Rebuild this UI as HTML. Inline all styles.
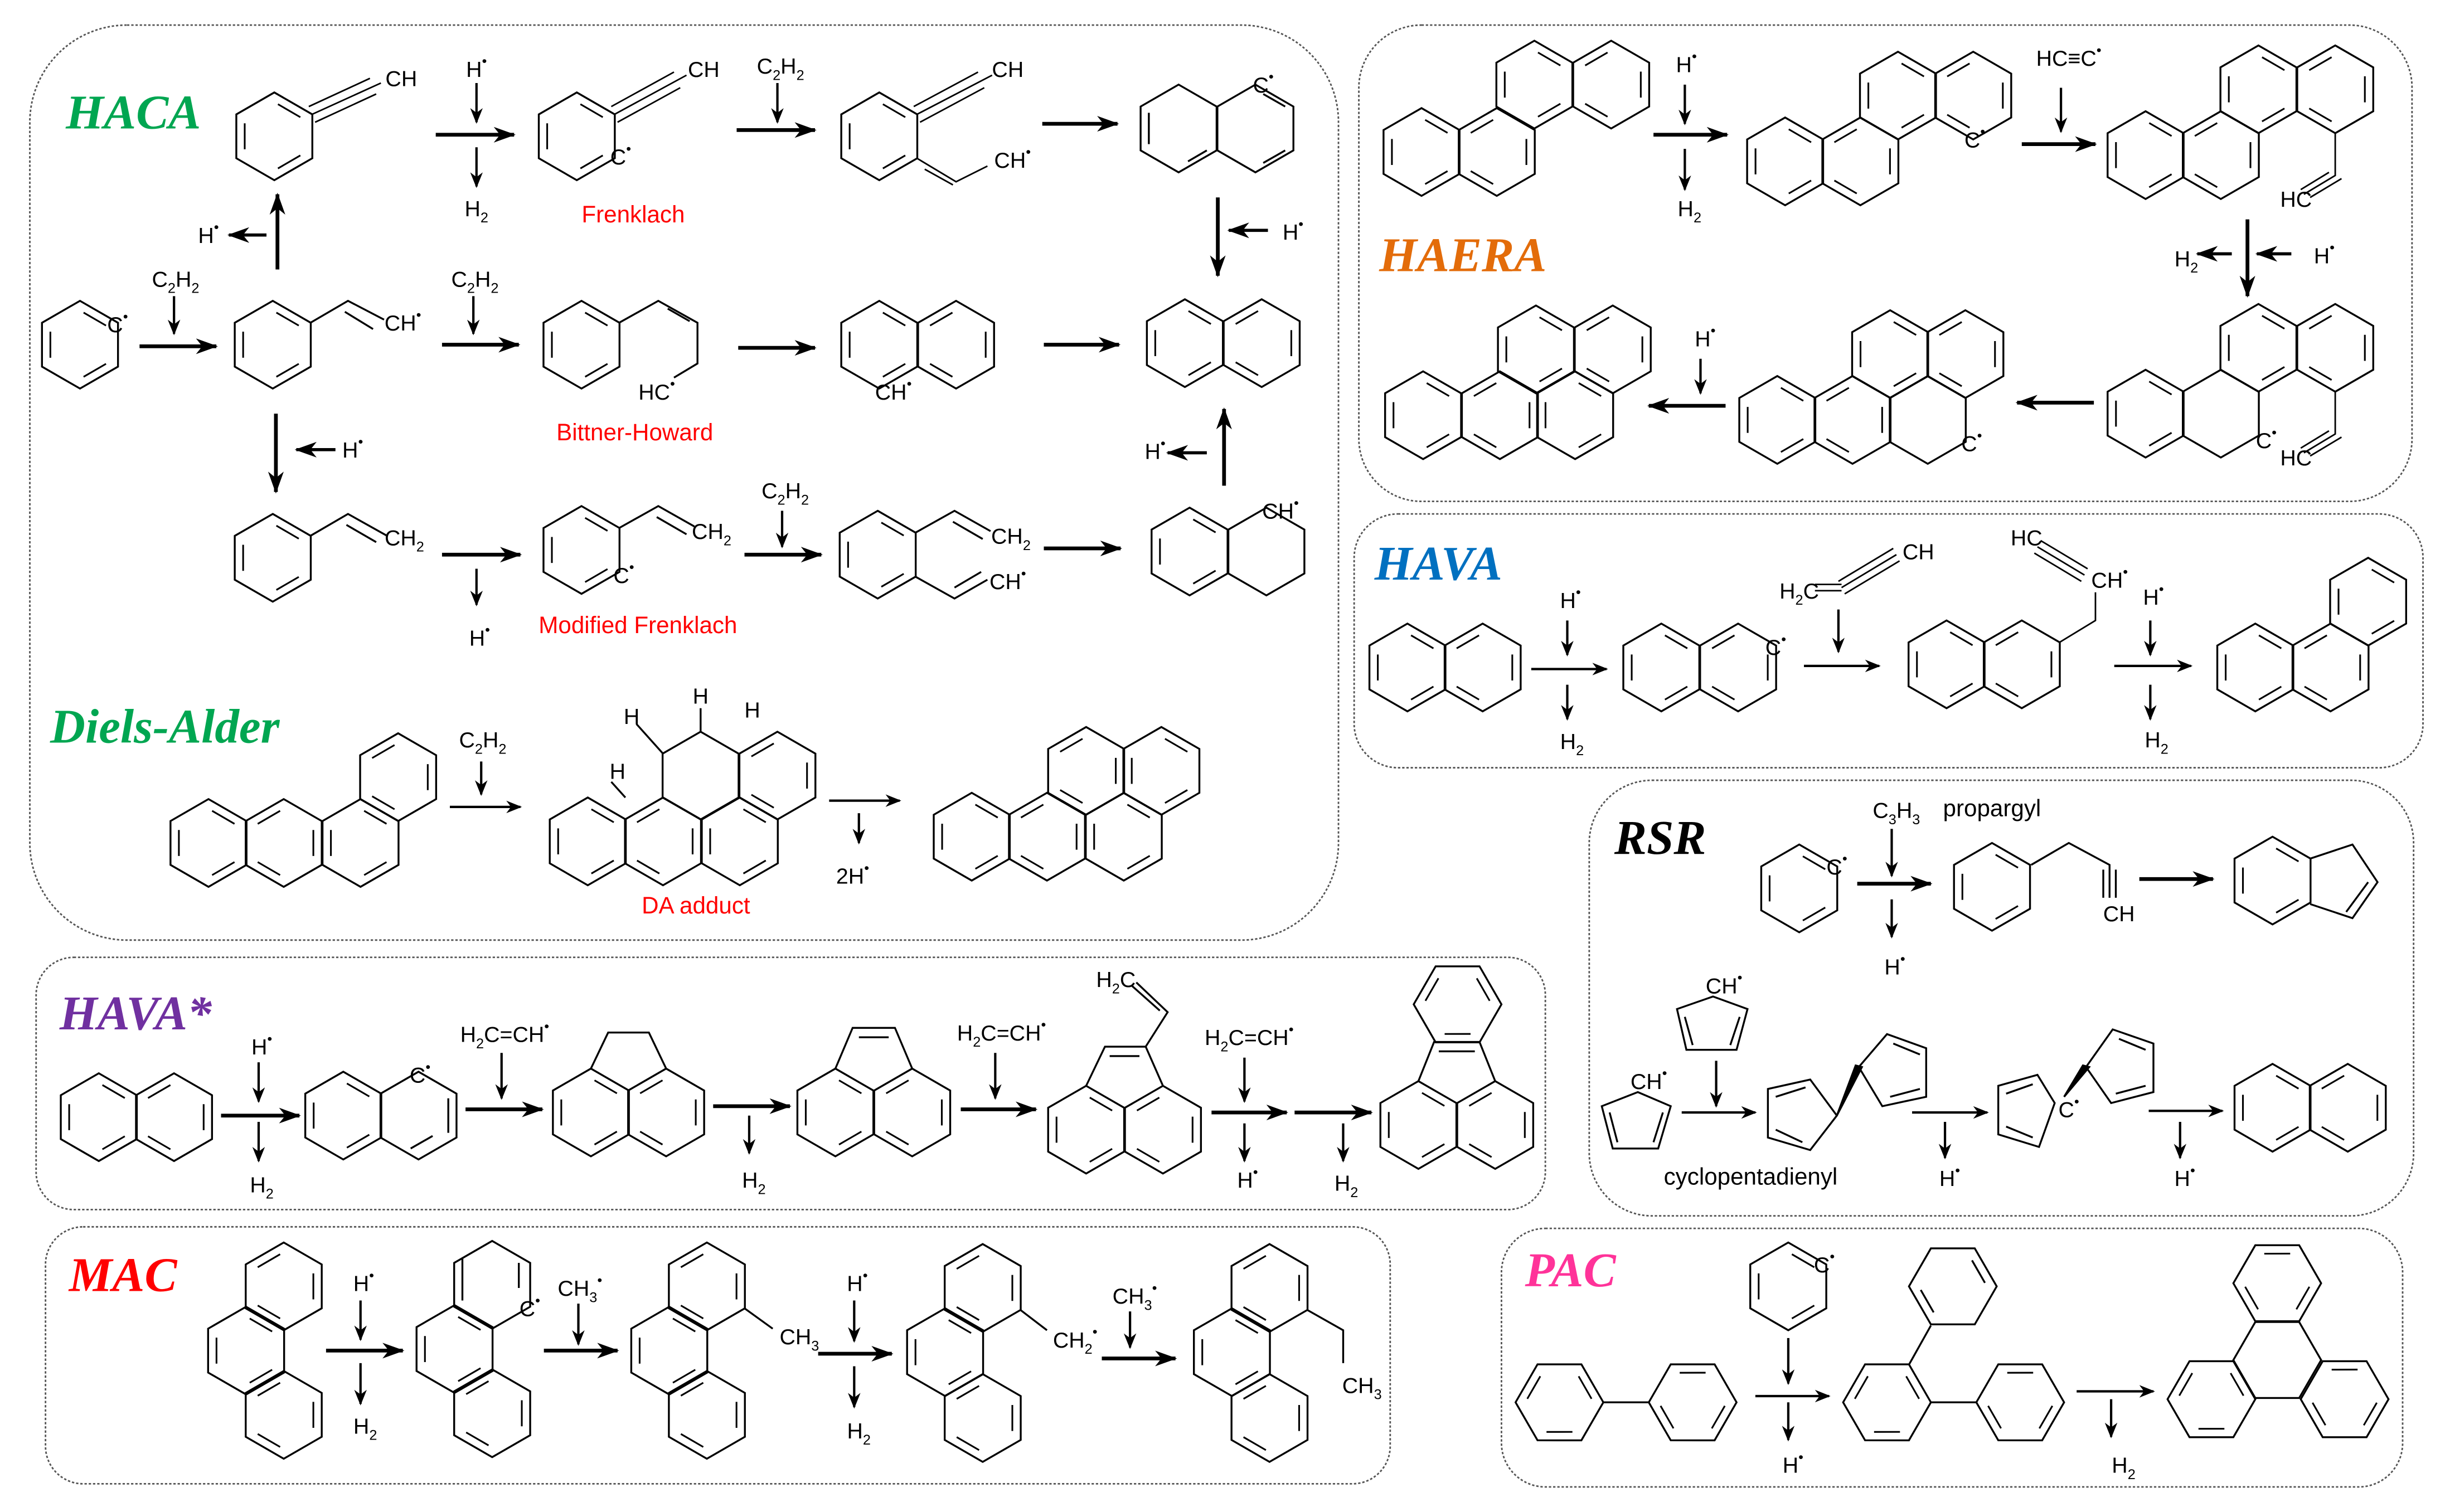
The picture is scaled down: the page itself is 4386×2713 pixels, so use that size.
<!DOCTYPE html>
<html><head><meta charset="utf-8"><style>
html,body{margin:0;padding:0;background:#fff}
svg{display:block}
text{font-family:"Liberation Sans",sans-serif;font-size:14px;fill:#000}
.lb{font-family:"Liberation Serif",serif;font-weight:bold;font-style:italic;font-size:31px}
.red{fill:#f00;font-size:15px}
.s{font-size:9px}
</style></head><body>
<svg width="4386" height="2713" viewBox="0 0 1560 965" xmlns="http://www.w3.org/2000/svg">
<defs>
<marker id="a" markerUnits="userSpaceOnUse" markerWidth="14" markerHeight="10" refX="13" refY="5" orient="auto"><path d="M0,0 L14,5 L0,10 L4,5 z" fill="#000"/></marker>
<marker id="b" markerUnits="userSpaceOnUse" markerWidth="10" markerHeight="8" refX="9" refY="4" orient="auto"><path d="M0,0 L10,4 L0,8 L3,4 z" fill="#000"/></marker>
<g id="H"><polygon points="0,-28 24.25,-14 24.25,14 0,28 -24.25,14 -24.25,-14" fill="none" stroke="#000" stroke-width="1.2"/></g>
<g id="P"><use href="#H"/><path d="M2.3,-20.5L16.6,-12.2M16.6,12.2L2.3,20.5M-18.9,8.3L-18.9,-8.3" stroke="#000" stroke-width="1.1" fill="none"/></g>
<g id="Q"><use href="#H"/><path d="M18.9,-8.3L18.9,8.3M-2.3,20.5L-16.6,12.2M-16.6,-12.2L-2.3,-20.5" stroke="#000" stroke-width="1.1" fill="none"/></g>
<g id="F"><g transform="rotate(30)"><use href="#P"/></g></g>
<g id="G"><g transform="rotate(30)"><use href="#Q"/></g></g>
</defs>
<g fill="none" stroke="#555" stroke-width="1" stroke-dasharray="1.5,1.2">
<rect x="19" y="16" width="835" height="584" rx="62"/>
<rect x="867" y="16" width="672" height="304" rx="40"/>
<rect x="864" y="328" width="682" height="162" rx="28"/>
<rect x="1014" y="498" width="526" height="278" rx="40"/>
<rect x="23" y="611" width="963" height="161" rx="24"/>
<rect x="29" y="783" width="858" height="164" rx="24"/>
<rect x="958" y="784" width="575" height="165" rx="28"/>
</g>
<text class="lb" x="42" y="82" style="fill:#00a651">HACA</text>
<text class="lb" x="32" y="474" style="fill:#00a651">Diels-Alder</text>
<text class="lb" x="880" y="173" style="fill:#e36c0a">HAERA</text>
<text class="lb" x="877" y="370" style="fill:#0070c0">HAVA</text>
<text class="lb" x="1030" y="545" style="fill:#000">RSR</text>
<text class="lb" x="38" y="657" style="fill:#7030a0">HAVA*</text>
<text class="lb" x="44" y="824" style="fill:#f00">MAC</text>
<text class="lb" x="973" y="821" style="fill:#ff3399">PAC</text>

<g stroke="#000" stroke-width="1.2" fill="none">
<!-- HACA row1 -->
<use href="#P" x="175" y="87"/>
<path d="M199,73 L243,53 M201,78 L240,60 M197,68 L236,50" stroke-width="1"/>
<use href="#P" x="368" y="87"/>
<path d="M392,73 L438,48 M394,78 L434,56 M390,68 L430,46" stroke-width="1"/>
<use href="#P" x="561" y="87"/>
<path d="M585,73 L633,48 M587,78 L628,56 M583,68 L624,46 M585,101 L610,116 L630,106 M590,108 L608,118" stroke-width="1"/>
<use href="#H" x="752" y="82"/><use href="#H" x="801" y="82"/>
<path d="M733,72L733,92M758,103L770,96M806,60L820,68M806,104L820,96"/>
<!-- row2 -->
<use href="#P" x="51" y="220"/>
<use href="#P" x="174" y="220"/>
<path d="M198,206 L222,192 L245,204 M220,199 L238,210"/>
<use href="#P" x="371" y="220"/>
<path d="M395,206 L420,192 L445,206 L445,232 L430,241 M426,197 L440,205"/>
<use href="#P" x="561" y="220"/><use href="#Q" x="610" y="220"/>
<use href="#P" x="756" y="219"/><use href="#Q" x="805" y="219"/>
<!-- row3 -->
<use href="#P" x="174" y="356"/>
<path d="M198,342 L222,328 L247,342 M221,335 L240,346"/>
<use href="#P" x="371" y="351"/>
<path d="M395,337 L420,323 L443,336 M419,330 L438,341"/>
<use href="#P" x="560" y="354"/>
<path d="M584,340 L609,326 L632,339 M608,333 L627,344 M584,368 L609,382 L630,370 M609,375 L626,365"/>
<use href="#P" x="759" y="352"/><use href="#H" x="808" y="352"/>
<!-- Diels-Alder -->
<use href="#P" x="133" y="538"/><use href="#Q" x="181" y="538"/><use href="#P" x="230" y="538"/><use href="#Q" x="254" y="496"/>
<use href="#P" x="375" y="537"/><use href="#Q" x="423" y="537"/><use href="#P" x="472" y="537"/><use href="#Q" x="496" y="495"/><use href="#H" x="447" y="495"/>
<path d="M423,481 L406,462 M447,467 L447,452 M399,509 L390,499"/>
<use href="#P" x="620" y="534"/><use href="#Q" x="668" y="534"/><use href="#P" x="717" y="534"/><use href="#Q" x="693" y="492"/><use href="#P" x="741" y="492"/>
<!-- HAERA -->
<use href="#P" x="907" y="97"/><use href="#Q" x="955" y="97"/><use href="#P" x="979" y="54"/><use href="#Q" x="1028" y="54"/>
<use href="#P" x="1139" y="103"/><use href="#Q" x="1187" y="103"/><use href="#P" x="1211" y="61"/><use href="#Q" x="1259" y="61"/>
<use href="#P" x="1369" y="99"/><use href="#Q" x="1417" y="99"/><use href="#P" x="1441" y="57"/><use href="#Q" x="1490" y="57"/>
<path d="M1490,85 L1490,112 L1470,124 M1486,110 L1468,121 M1494,114 L1474,126" stroke-width="1"/>
<use href="#P" x="1369" y="264"/><use href="#H" x="1417" y="264"/><use href="#P" x="1441" y="222"/><use href="#Q" x="1490" y="222"/>
<path d="M1490,250 L1490,277 L1470,289 M1486,275 L1468,286 M1494,279 L1474,291" stroke-width="1"/>
<use href="#P" x="1134" y="268"/><use href="#Q" x="1182" y="268"/><use href="#P" x="1206" y="226"/><use href="#Q" x="1254" y="226"/><use href="#H" x="1230" y="268"/>
<use href="#P" x="908" y="265"/><use href="#Q" x="957" y="265"/><use href="#P" x="980" y="223"/><use href="#Q" x="1029" y="223"/><use href="#P" x="1005" y="265"/>
<!-- HAVA -->
<use href="#P" x="898" y="426"/><use href="#Q" x="946" y="426"/>
<use href="#P" x="1060" y="426"/><use href="#Q" x="1109" y="426"/>
<path d="M1158,373 L1175,373 M1158,377 L1175,377 M1175,375 L1210,354 M1177,379 L1212,358 M1173,371 L1208,350" stroke-width="1"/>
<use href="#P" x="1242" y="424"/><use href="#Q" x="1290" y="424"/>
<path d="M1314,410 L1337,396 L1337,378 M1330,367 L1300,349 M1332,363 L1302,345 M1328,371 L1298,353" stroke-width="1"/>
<use href="#P" x="1439" y="426"/><use href="#Q" x="1487" y="426"/><use href="#P" x="1511" y="384"/>
<!-- RSR -->
<use href="#P" x="1148" y="567"/>
<use href="#P" x="1271" y="566"/>
<path d="M1296,552 L1320,538 L1346,552 L1346,573 M1342,555 L1342,573 M1350,555 L1350,573"/>
<use href="#P" x="1450" y="562"/>
<path d="M1474,548 L1501,539 L1517,563 L1501,586 L1474,577 M1511,563 L1497,582"/>
<polygon points="1093,636 1115,644 1108,670 1076,670 1070,644"/>
<path d="M1110,649 L1104,667 M1075,649 L1080,667"/>
<polygon points="1045,697 1066,706 1058,733 1029,733 1022,706"/>
<path d="M1061,710 L1055,729 M1027,710 L1032,729"/>
<polygon points="1128,695 1155,689 1172,712 1155,734 1128,726"/>
<path d="M1133,700 L1152,694 M1133,721 L1150,729"/>
<polygon points="1186,681 1204,660 1229,669 1229,700 1201,706" />
<path d="M1208,666 L1225,673 M1206,700 L1225,695"/>
<polygon points="1172,712 1188,681 1184,680" fill="#000"/>
<polygon points="1275,693 1300,686 1311,704 1301,732 1275,724"/>
<path d="M1280,698 L1297,692 M1280,719 L1297,726"/>
<polygon points="1331,681 1348,657 1374,666 1374,697 1347,704"/>
<path d="M1352,663 L1369,670 M1350,698 L1369,693"/>
<polygon points="1317,700 1333,681 1329,680" fill="#000"/>
<use href="#P" x="1450" y="707"/><use href="#Q" x="1498" y="707"/>
<!-- HAVA* -->
<use href="#P" x="63" y="713"/><use href="#Q" x="111" y="713"/>
<use href="#P" x="219" y="712"/><use href="#H" x="267" y="712"/>
<path d="M286,701L286,723M262,733L276,725"/>
<use href="#P" x="377" y="710"/><use href="#Q" x="425" y="710"/>
<path d="M377,682 L388,659 L414,659 L425,682"/>
<use href="#P" x="533" y="710"/><use href="#Q" x="582" y="710"/>
<path d="M533,682 L544,656 L571,656 L582,682 M548,662 L567,662"/>
<use href="#P" x="693" y="721"/><use href="#Q" x="742" y="721"/>
<path d="M693,693 L705,668 L731,668 L742,693 M708,674 L727,674 M731,668 L745,646 L725,627 M740,645 L722,629"/>
<use href="#P" x="905" y="718"/><use href="#Q" x="954" y="718"/>
<path d="M905,690 L915,665 L944,665 L954,690 M918,671 L941,671"/>
<use href="#F" x="930" y="641"/>
<!-- MAC -->
<use href="#Q" x="181" y="821"/><use href="#P" x="157" y="862"/><use href="#Q" x="181" y="903"/>
<use href="#H" x="314" y="820"/><use href="#P" x="290" y="861"/><use href="#Q" x="314" y="902"/>
<path d="M295,803L295,830M331,806L331,822"/>
<use href="#Q" x="451" y="821"/><use href="#P" x="427" y="862"/><use href="#Q" x="451" y="903"/>
<path d="M475,835 L493,848"/>
<use href="#Q" x="627" y="822"/><use href="#P" x="603" y="863"/><use href="#Q" x="627" y="905"/>
<path d="M651,836 L668,849"/>
<use href="#Q" x="810" y="822"/><use href="#P" x="786" y="863"/><use href="#Q" x="810" y="905"/>
<path d="M834,836 L857,849 L857,870"/>
<!-- PAC -->
<use href="#F" x="995" y="895"/><use href="#G" x="1080" y="895"/><path d="M1023,895 L1052,895"/>
<use href="#P" x="1141" y="821"/>
<use href="#F" x="1204" y="895"/><use href="#G" x="1289" y="895"/><path d="M1232,895 L1261,895 M1218,871 L1232,846"/>
<g transform="translate(1246,821) rotate(30)"><polygon points="0,-28 24.25,-14 24.25,14 0,28 -24.25,14 -24.25,-14"/><path d="M2.3,-20.5L16.6,-12.2M-2.3,20.5L-16.6,12.2" /></g>
<use href="#G" x="1453" y="819"/><use href="#F" x="1411" y="893"/><use href="#G" x="1496" y="893"/><use href="#H" x="1453" y="868" transform="rotate(30 1453 868)"/>
</g>

<!-- arrows (bold) -->
<g stroke="#000" stroke-width="2.4" marker-end="url(#a)" fill="none">
<path d="M278,86H328"/><path d="M470,83H520"/><path d="M665,79H713"/><path d="M89,221H138"/><path d="M282,220H331"/><path d="M471,222H520"/><path d="M666,220H714"/><path d="M282,354H332"/><path d="M475,354H524"/><path d="M666,350H715"/>
<path d="M177,172V124"/><path d="M176,264V314"/><path d="M777,126V176"/><path d="M781,310V261"/>
<path d="M1055,86H1102"/><path d="M1290,92H1337"/><path d="M1434,140V189"/><path d="M1336,257H1287"/><path d="M1101,259H1052"/>
<path d="M1185,564H1232"/><path d="M1365,561H1412"/>
<path d="M141,712H191"/><path d="M297,708H346"/><path d="M455,706H504"/><path d="M613,708H661"/><path d="M773,710H821"/><path d="M826,710H875"/>
<path d="M208,862H257"/><path d="M347,862H394"/><path d="M522,864H569"/><path d="M703,867H750"/>
</g>
<g stroke="#000" stroke-width="2" marker-end="url(#a)" fill="none">
<path d="M170,150H146"/><path d="M214,287H189"/><path d="M809,147H784"/><path d="M770,289H745"/><path d="M1424,162H1402"/><path d="M1462,162H1440"/>
</g>
<!-- arrows (thin) -->
<g stroke="#000" stroke-width="1.5" marker-end="url(#b)" fill="none">
<path d="M304,53V78"/><path d="M304,94V119"/><path d="M496,53V78"/><path d="M111,189V213"/><path d="M302,189V213"/><path d="M304,363V386"/><path d="M499,326V349"/>
<path d="M307,486V507"/><path d="M287,515H332"/><path d="M529,511H574"/><path d="M548,519V538"/>
<path d="M1075,54V79"/><path d="M1075,95V121"/><path d="M1315,56V84"/><path d="M1085,229V251"/>
<path d="M977,427H1025"/><path d="M1000,396V418"/><path d="M1000,437V459"/><path d="M1173,389V416"/><path d="M1151,425H1199"/><path d="M1349,425H1398"/><path d="M1372,396V418"/><path d="M1372,437V459"/>
<path d="M1207,529V559"/><path d="M1207,574V598"/><path d="M1095,677V706"/><path d="M1073,710H1120"/><path d="M1220,710H1268"/><path d="M1241,716V739"/><path d="M1371,709H1418"/><path d="M1391,716V739"/>
<path d="M165,678V703"/><path d="M165,716V741"/><path d="M320,672V701"/><path d="M478,712V736"/><path d="M635,672V701"/><path d="M794,675V703"/><path d="M794,717V741"/><path d="M857,717V741"/>
<path d="M230,830V855"/><path d="M230,870V896"/><path d="M369,832V858"/><path d="M545,830V856"/><path d="M545,872V898"/><path d="M721,837V860"/>
<path d="M1141,854V883"/><path d="M1120,891H1167"/><path d="M1141,895V919"/><path d="M1325,888H1374"/><path d="M1347,893V917"/>
</g>

<!-- texts -->
<g text-anchor="middle">
<text x="256" y="55">CH</text>
<text x="304" y="49">H<tspan class="s" dy="-7">•</tspan></text>
<text x="304" y="138">H<tspan class="s" dy="4">2</tspan></text>
<text x="449" y="49">CH</text>
<text x="396" y="105">C<tspan class="s" dy="-7">•</tspan></text>
<text class="red" x="404" y="142">Frenklach</text>
<text x="498" y="47">C<tspan class="s" dy="4">2</tspan><tspan dy="-4">H</tspan><tspan class="s" dy="4">2</tspan></text>
<text x="643" y="49">CH</text>
<text x="646" y="107">CH<tspan class="s" dy="-7">•</tspan></text>
<text x="806" y="59">C<tspan class="s" dy="-7">•</tspan></text>
<text x="825" y="153">H<tspan class="s" dy="-7">•</tspan></text>
<text x="75" y="212">C<tspan class="s" dy="-7">•</tspan></text>
<text x="112" y="183">C<tspan class="s" dy="4">2</tspan><tspan dy="-4">H</tspan><tspan class="s" dy="4">2</tspan></text>
<text x="133" y="155">H<tspan class="s" dy="-7">•</tspan></text>
<text x="257" y="211">CH<tspan class="s" dy="-7">•</tspan></text>
<text x="303" y="183">C<tspan class="s" dy="4">2</tspan><tspan dy="-4">H</tspan><tspan class="s" dy="4">2</tspan></text>
<text x="419" y="255">HC<tspan class="s" dy="-7">•</tspan></text>
<text class="red" x="405" y="281">Bittner-Howard</text>
<text x="570" y="255">CH<tspan class="s" dy="-7">•</tspan></text>
<text x="225" y="292">H<tspan class="s" dy="-7">•</tspan></text>
<text x="258" y="348">CH<tspan class="s" dy="4">2</tspan></text>
<text x="306" y="412">H<tspan class="s" dy="-7">•</tspan></text>
<text x="454" y="344">CH<tspan class="s" dy="4">2</tspan></text>
<text x="398" y="372">C<tspan class="s" dy="-7">•</tspan></text>
<text class="red" x="407" y="404">Modified Frenklach</text>
<text x="501" y="318">C<tspan class="s" dy="4">2</tspan><tspan dy="-4">H</tspan><tspan class="s" dy="4">2</tspan></text>
<text x="645" y="347">CH<tspan class="s" dy="4">2</tspan></text>
<text x="643" y="376">CH<tspan class="s" dy="-7">•</tspan></text>
<text x="817" y="331">CH<tspan class="s" dy="-7">•</tspan></text>
<text x="737" y="293">H<tspan class="s" dy="-7">•</tspan></text>
<text x="308" y="477">C<tspan class="s" dy="4">2</tspan><tspan dy="-4">H</tspan><tspan class="s" dy="4">2</tspan></text>
<text x="403" y="462">H</text><text x="447" y="449">H</text><text x="480" y="458">H</text><text x="394" y="497">H</text>
<text class="red" x="444" y="583">DA adduct</text>
<text x="544" y="564">2H<tspan class="s" dy="-7">•</tspan></text>

<text x="1076" y="46">H<tspan class="s" dy="-7">•</tspan></text>
<text x="1078" y="138">H<tspan class="s" dy="4">2</tspan></text>
<text x="1260" y="94">C<tspan class="s" dy="-7">•</tspan></text>
<text x="1320" y="42">HC≡C<tspan class="s" dy="-7">•</tspan></text>
<text x="1465" y="132">HC</text>
<text x="1395" y="170">H<tspan class="s" dy="4">2</tspan></text>
<text x="1483" y="168">H<tspan class="s" dy="-7">•</tspan></text>
<text x="1446" y="286">C<tspan class="s" dy="-7">•</tspan></text>
<text x="1465" y="297">HC</text>
<text x="1258" y="288">C<tspan class="s" dy="-7">•</tspan></text>
<text x="1088" y="221">H<tspan class="s" dy="-7">•</tspan></text>

<text x="1002" y="388">H<tspan class="s" dy="-7">•</tspan></text>
<text x="1003" y="478">H<tspan class="s" dy="4">2</tspan></text>
<text x="1133" y="418">C<tspan class="s" dy="-7">•</tspan></text>
<text x="1148" y="382">H<tspan class="s" dy="4">2</tspan><tspan dy="-4">C</tspan></text>
<text x="1224" y="357">CH</text>
<text x="1346" y="375">CH<tspan class="s" dy="-7">•</tspan></text>
<text x="1293" y="348">HC</text>
<text x="1374" y="386">H<tspan class="s" dy="-7">•</tspan></text>
<text x="1376" y="477">H<tspan class="s" dy="4">2</tspan></text>

<text x="1172" y="558">C<tspan class="s" dy="-7">•</tspan></text>
<text x="1210" y="522">C<tspan class="s" dy="4">3</tspan><tspan dy="-4">H</tspan><tspan class="s" dy="4">3</tspan></text>
<text x="1271" y="521" style="font-size:15px">propargyl</text>
<text x="1209" y="622">H<tspan class="s" dy="-7">•</tspan></text>
<text x="1352" y="588">CH</text>
<text x="1100" y="634">CH<tspan class="s" dy="-7">•</tspan></text>
<text x="1052" y="695">CH<tspan class="s" dy="-7">•</tspan></text>
<text x="1117" y="756" style="font-size:15px">cyclopentadienyl</text>
<text x="1244" y="757">H<tspan class="s" dy="-7">•</tspan></text>
<text x="1320" y="713">C<tspan class="s" dy="-7">•</tspan></text>
<text x="1394" y="757">H<tspan class="s" dy="-7">•</tspan></text>

<text x="167" y="673">H<tspan class="s" dy="-7">•</tspan></text>
<text x="167" y="761">H<tspan class="s" dy="4">2</tspan></text>
<text x="268" y="691">C<tspan class="s" dy="-7">•</tspan></text>
<text x="322" y="665">H<tspan class="s" dy="4">2</tspan><tspan dy="-4">C=CH</tspan><tspan class="s" dy="-7">•</tspan></text>
<text x="481" y="758">H<tspan class="s" dy="4">2</tspan></text>
<text x="639" y="664">H<tspan class="s" dy="4">2</tspan><tspan dy="-4">C=CH</tspan><tspan class="s" dy="-7">•</tspan></text>
<text x="712" y="630">H<tspan class="s" dy="4">2</tspan><tspan dy="-4">C</tspan></text>
<text x="797" y="667">H<tspan class="s" dy="4">2</tspan><tspan dy="-4">C=CH</tspan><tspan class="s" dy="-7">•</tspan></text>
<text x="796" y="758">H<tspan class="s" dy="-7">•</tspan></text>
<text x="859" y="760">H<tspan class="s" dy="4">2</tspan></text>

<text x="232" y="824">H<tspan class="s" dy="-7">•</tspan></text>
<text x="233" y="915">H<tspan class="s" dy="4">2</tspan></text>
<text x="338" y="840">C<tspan class="s" dy="-7">•</tspan></text>
<text x="370" y="827">CH<tspan class="s" dy="4">3</tspan><tspan class="s" dy="-11">•</tspan></text>
<text x="510" y="858">CH<tspan class="s" dy="4">3</tspan></text>
<text x="547" y="824">H<tspan class="s" dy="-7">•</tspan></text>
<text x="548" y="918">H<tspan class="s" dy="4">2</tspan></text>
<text x="686" y="860">CH<tspan class="s" dy="4">2</tspan><tspan class="s" dy="-11">•</tspan></text>
<text x="724" y="832">CH<tspan class="s" dy="4">3</tspan><tspan class="s" dy="-11">•</tspan></text>
<text x="869" y="889">CH<tspan class="s" dy="4">3</tspan></text>

<text x="1164" y="812">C<tspan class="s" dy="-7">•</tspan></text>
<text x="1144" y="940">H<tspan class="s" dy="-7">•</tspan></text>
<text x="1355" y="940">H<tspan class="s" dy="4">2</tspan></text>
</g>
</svg>
</body></html>
